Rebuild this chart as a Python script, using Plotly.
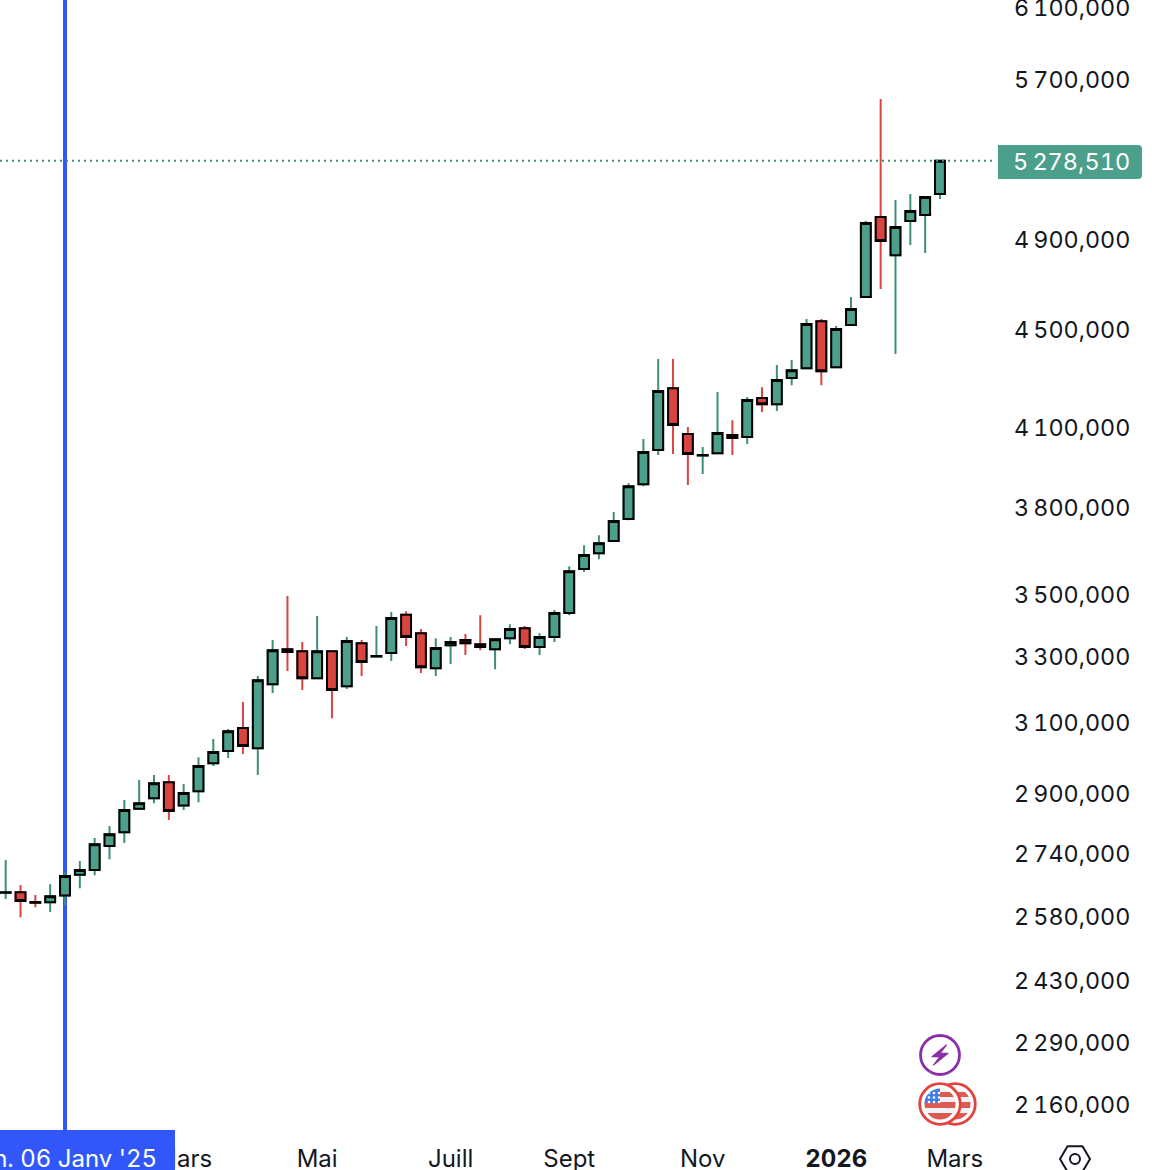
import base64
import math

import pandas as pd
import plotly.graph_objects as go

opens_k = [2641, 2642, 2618, 2617, 2634, 2686, 2698, 2760, 2796, 2859, 2888, 2932, 2868, 2907, 2985, 3020,
           3086, 3028, 3217, 3325, 3319, 3235, 3319, 3211, 3344, 3302, 3313, 3435, 3376, 3266, 3338, 3354,
           3341, 3325, 3360, 3392, 3332, 3364, 3441, 3587, 3641, 3684, 3761, 3887, 4015, 4257, 4076, 3994,
           4003, 4072, 4065, 4217, 4193, 4298, 4338, 4535, 4342, 4519, 4640, 5005, 4828, 4986, 5015, 5115]
closes_k = [2642, 2620, 2616, 2632, 2683, 2698, 2765, 2791, 2856, 2874, 2929, 2853, 2902, 2977, 3017, 3077,
            3034, 3229, 3322, 3316, 3235, 3319, 3199, 3351, 3285, 3304, 3425, 3364, 3269, 3329, 3348, 3344,
            3332, 3357, 3389, 3332, 3364, 3441, 3580, 3635, 3676, 3754, 3880, 4007, 4245, 4111, 4000, 3996,
            4080, 4061, 4209, 4193, 4290, 4330, 4523, 4326, 4502, 4588, 4977, 4893, 4958, 5034, 5101, 5278.51]
highs_k = [2724, 2660, 2635, 2662, 2693, 2721, 2781, 2813, 2883, 2938, 2952, 2952, 2927, 3002, 3054, 3083,
           3163, 3242, 3354, 3497, 3348, 3431, 3322, 3364, 3354, 3399, 3444, 3447, 3389, 3360, 3364, 3373,
           3434, 3360, 3405, 3399, 3376, 3451, 3597, 3669, 3704, 3786, 3891, 4057, 4376, 4376, 4103, 4026,
           4241, 4130, 4221, 4261, 4351, 4372, 4545, 4545, 4515, 4640, 4986, 5597, 5086, 5115, 5106, 5283]
lows_k = [2625, 2580, 2605, 2593, 2610, 2652, 2685, 2726, 2768, 2856, 2874, 2829, 2856, 2877, 2977, 3000,
          3011, 2952, 3190, 3257, 3199, 3232, 3115, 3202, 3242, 3300, 3288, 3335, 3251, 3242, 3279, 3307,
          3322, 3263, 3341, 3326, 3307, 3348, 3434, 3577, 3621, 3683, 3757, 3880, 3996, 4000, 3884, 3925,
          4000, 3996, 4038, 4162, 4166, 4269, 4335, 4269, 4340, 4515, 4640, 4676, 4397, 4874, 4838, 5091]
tick_prices = [6100000, 5700000, 4900000, 4500000, 4100000, 3800000, 3500000, 3300000,
               3100000, 2900000, 2740000, 2580000, 2430000, 2290000, 2160000]
month_ticks = ["2025-03-03", "2025-05-05", "2025-07-07", "2025-09-01", "2025-11-03", "2026-01-05", "2026-03-02"]
month_labels = ["Mars", "Mai", "Juill", "Sept", "Nov", "<b>2026</b>", "Mars"]

opens = [v * 1000 for v in opens_k]
closes = [v * 1000 for v in closes_k]
highs = [v * 1000 for v in highs_k]
lows = [v * 1000 for v in lows_k]
dates = pd.date_range("2024-12-09", periods=len(opens), freq="7D")

GREEN = "#4C9F8A"
GREEN_WICK = "#3E8F78"
RED = "#DA4440"
RED_WICK = "#DB4440"
BLACK = "#000000"
TEXT = "#131722"
BLUE = "#3157FB"

tick_labels = [f"{v // 1000000}\u2009{v % 1000000 // 1000:03d},000" for v in tick_prices]

W, H, PLOT_W, PLOT_H = 1152, 1170, 997, 1130

# marges de page nulles et chiffres a chasse fixe
PAGE_JS = """
document.documentElement.style.margin = '0';
document.body.style.margin = '0';
document.body.style.height = '1170px';
document.body.style.overflow = 'hidden';
var gd = document.querySelector('.plotly-graph-div');
gd.style.display = 'block';
gd.parentElement.style.height = '1170px';
gd.parentElement.style.overflow = 'hidden';
var st = document.createElement('style');
st.textContent = "svg text { font-feature-settings: 'tnum' 1; font-variant-numeric: tabular-nums; }";
document.head.appendChild(st);
"""


def px_x(x):
    return x / PLOT_W


def px_y(y):
    return 1 - y / PLOT_H


def icon(svg, x0, y0, w, h):
    # petite icone en svg, placee en pixels de la page
    src = "data:image/svg+xml;base64," + base64.b64encode(svg.encode()).decode()
    return dict(source=src, xref="paper", yref="paper", x=px_x(x0), y=px_y(y0),
                sizex=w / PLOT_W, sizey=h / PLOT_H, xanchor="left", yanchor="top",
                sizing="stretch", layer="above")


BOLT_SVG = (
    '<svg xmlns="http://www.w3.org/2000/svg" width="44" height="44" viewBox="-22 -22 44 44">'
    '<circle r="19.5" fill="#fff" stroke="#8B2FA8" stroke-width="2.8"/>'
    '<path d="M6.5 -10 L-8 1.7 L0 1.7 L-6.5 10 L8 -1.7 L0 -1.7 Z" fill="#8B2FA8" '
    'stroke="#8B2FA8" stroke-width="1.2" stroke-linejoin="round"/></svg>'
)


def flag_disc(cx, cid):
    stripes = "".join(
        f'<rect x="{cx - 16}" y="{y}" width="32" height="{h}" fill="{c}"/>'
        for y, h, c in [(-16, 32, "#f2f3f6"), (-12, 5, "#DC5A50"), (-2, 6, "#DC5A50"), (9, 8, "#DC5A50")]
    )
    return (
        f'<clipPath id="{cid}"><circle cx="{cx}" r="15.5"/></clipPath>'
        f'<circle cx="{cx}" r="20.3" fill="#fff" stroke="#E0443F" stroke-width="2.8"/>'
        f'<g clip-path="url(#{cid})">{stripes}'
        f'<rect x="{cx - 16}" y="-16" width="16" height="15" fill="#3F7CE8"/>'
        + "".join(f'<circle cx="{cx - 11 + i * 5}" cy="{-11 + j * 4.5}" r="1.3" fill="#fff"/>'
                  for i in range(3) for j in range(3))
        + "</g>"
    )


FLAG_SVG = (
    '<svg xmlns="http://www.w3.org/2000/svg" width="64" height="48" viewBox="-24 -24 64 48">'
    + flag_disc(15, "a") + flag_disc(0, "b") + "</svg>"
)
GEAR_SVG = (
    '<svg xmlns="http://www.w3.org/2000/svg" width="36" height="32" viewBox="-18 -16 36 32">'
    f'<path d="M-7.5 -12.7 L7.5 -12.7 L15 0 L7.5 12.7 L-7.5 12.7 L-15 0 Z" fill="none" stroke="{TEXT}" '
    'stroke-width="2" stroke-linejoin="round"/>'
    f'<circle r="5" fill="none" stroke="{TEXT}" stroke-width="2"/></svg>'
)

fig = go.Figure()

# meches colorees dessous, corps a contour noir dessus
fig.add_trace(go.Candlestick(
    x=dates, open=opens, high=highs, low=lows, close=closes,
    increasing=dict(line=dict(color=GREEN_WICK, width=2), fillcolor=GREEN),
    decreasing=dict(line=dict(color=RED_WICK, width=2), fillcolor=RED),
    whiskerwidth=0, hoverinfo="skip", showlegend=False,
))
fig.add_trace(go.Candlestick(
    x=dates, open=opens, close=closes,
    high=[max(o, c) for o, c in zip(opens, closes)],
    low=[min(o, c) for o, c in zip(opens, closes)],
    increasing=dict(line=dict(color=BLACK, width=2), fillcolor=GREEN),
    decreasing=dict(line=dict(color=BLACK, width=2), fillcolor=RED),
    whiskerwidth=0, hoverinfo="skip", showlegend=False,
))

fig.add_shape(type="line", layer="below", xref="x", yref="paper", x0="2025-01-06", x1="2025-01-06",
              y0=0, y1=1, line=dict(color=BLUE, width=4))
fig.add_shape(type="line", layer="above", xref="paper", yref="y", x0=0, x1=px_x(995),
              y0=closes[-1], y1=closes[-1], line=dict(color=GREEN_WICK, width=2, dash="2px,4px"))
fig.add_shape(type="rect", layer="above", xref="paper", yref="paper", x0=0, x1=px_x(175),
              y0=px_y(1130), y1=px_y(1170), fillcolor=BLUE, line_width=0)
tag = (f"M {px_x(998)},{px_y(145)} L {px_x(1138)},{px_y(145)} Q {px_x(1142)},{px_y(145)} {px_x(1142)},{px_y(149)} "
       f"L {px_x(1142)},{px_y(175)} Q {px_x(1142)},{px_y(179)} {px_x(1138)},{px_y(179)} L {px_x(998)},{px_y(179)} Z")
fig.add_shape(type="path", layer="above", xref="paper", yref="paper", path=tag, fillcolor=GREEN, line_width=0)

fig.add_annotation(xref="paper", yref="paper", x=px_x(158), y=px_y(1158), xanchor="right", yanchor="middle",
                   text="lun. 06 Janv '25", showarrow=False, font=dict(color="#FFFFFF", size=24))
fig.add_annotation(xref="paper", yref="paper", x=px_x(1017), y=px_y(162), xanchor="left", yanchor="middle",
                   text="5\u2009278,510", showarrow=False, font=dict(color="#FFFFFF", size=23.5))

fig.update_layout(
    width=W,
    height=H,
    margin=dict(l=0, r=W - PLOT_W, t=0, b=H - PLOT_H),
    paper_bgcolor="#FFFFFF",
    plot_bgcolor="#FFFFFF",
    font=dict(family="Inter", size=24, color=TEXT),
    showlegend=False,
    boxgap=0.05,
    images=[icon(BOLT_SVG, 918, 1033, 44, 44), icon(FLAG_SVG, 916, 1080, 64, 48), icon(GEAR_SVG, 1057, 1143, 36, 32)],
)
fig.update_xaxes(
    type="date",
    range=["2024-12-06 07:30", "2026-03-21 22:00"],
    rangeslider_visible=False,
    automargin=False,
    showgrid=False,
    zeroline=False,
    showline=False,
    ticks="",
    tickvals=month_ticks,
    ticktext=month_labels,
    tickangle=0,
    ticklabelstandoff=12,
    ticklabeloverflow="allow",
)
fig.update_yaxes(
    type="log",
    side="right",
    range=[math.log10(2109700), math.log10(6146360)],
    automargin=False,
    showgrid=False,
    zeroline=False,
    showline=False,
    ticks="",
    tickvals=tick_prices,
    ticktext=tick_labels,
    tickfont_size=23.3,
    ticklabelstandoff=16,
    ticklabeloverflow="allow",
)

fig.write_html("out.html", config={"displayModeBar": False}, post_script=PAGE_JS)
